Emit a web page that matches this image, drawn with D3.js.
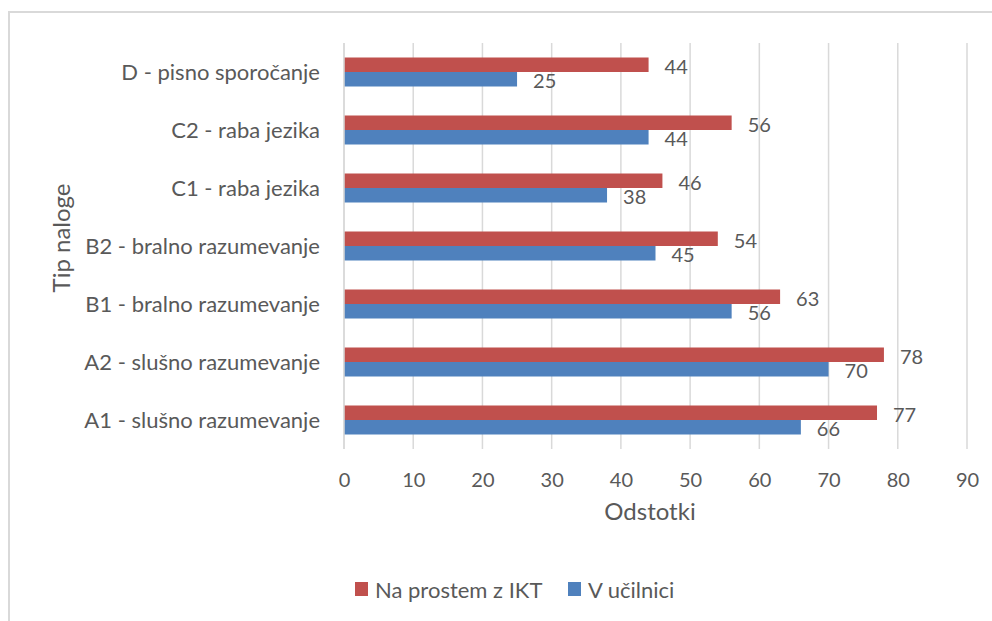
<!DOCTYPE html>
<html>
<head>
<meta charset="utf-8">
<script src="https://cdn.jsdelivr.net/npm/d3@7"></script>
<style>
  html, body { margin: 0; padding: 0; background: #fff; }
  svg { display: block; }
  text { font-family: Lato, "Open Sans", sans-serif; fill: #595959; }
</style>
</head>
<body>
<svg id="chart" width="992" height="621"></svg>
<script>
const categories = [
  "D - pisno sporočanje",
  "C2 - raba jezika",
  "C1 - raba jezika",
  "B2 - bralno razumevanje",
  "B1 - bralno razumevanje",
  "A2 - slušno razumevanje",
  "A1 - slušno razumevanje"
];
const seriesNames = ["Na prostem z IKT", "V učilnici"];
const naProstem = [44, 56, 46, 54, 63, 78, 77];
const vUcilnici = [25, 44, 38, 45, 56, 70, 66];
const xTicks = [0, 10, 20, 30, 40, 50, 60, 70, 80, 90];
const colors = ["#C0504D", "#4F81BD"];

const svg = d3.select("#chart");

// chart border
svg.append("path")
  .attr("d", "M9,621 L9,12 L992,12")
  .attr("fill", "none")
  .attr("stroke", "#D9D9D9")
  .attr("stroke-width", 2);

const x = d3.scaleLinear().domain([0, 90]).range([344, 967]);
const y = d3.scaleBand().domain(categories).range([43, 449]).paddingInner(0.5).paddingOuter(0.25);
const sub = d3.scaleBand().domain(seriesNames).range([0, y.bandwidth()]);

// gridlines
svg.append("g").selectAll("line").data(xTicks).join("line")
  .attr("x1", d => x(d)).attr("x2", d => x(d))
  .attr("y1", 43).attr("y2", 449)
  .attr("stroke", "#D9D9D9").attr("stroke-width", 1.5);

// x axis tick labels
const xAxis = d3.axisBottom(x).tickValues(xTicks).tickSize(0).tickPadding(0);
const gx = svg.append("g").attr("transform", "translate(0,449)").call(xAxis);
gx.select(".domain").remove();
gx.selectAll("text")
  .attr("y", 31).attr("dy", "0.35em")
  .style("font-size", "20px").style("fill", "#595959")
  .style("font-family", "Lato, 'Open Sans', sans-serif");

// y axis category labels
const yAxis = d3.axisLeft(y).tickSize(0).tickPadding(0);
const gy = svg.append("g").attr("transform", "translate(320,0)").call(yAxis);
gy.select(".domain").remove();
gy.selectAll("text")
  .attr("x", 0).attr("dy", "0.35em")
  .style("font-size", "22px").style("fill", "#595959")
  .style("font-family", "Lato, 'Open Sans', sans-serif");

// bars
const rows = categories.map((c, i) => ({ cat: c, vals: [naProstem[i], vUcilnici[i]] }));
const groups = svg.append("g").selectAll("g").data(rows).join("g")
  .attr("transform", d => `translate(0,${y(d.cat)})`);

groups.selectAll("rect").data(d => d.vals.map((v, j) => ({ v, s: seriesNames[j], j }))).join("rect")
  .attr("x", x(0))
  .attr("y", d => sub(d.s))
  .attr("width", d => x(d.v) - x(0))
  .attr("height", sub.bandwidth())
  .attr("fill", d => colors[d.j]);

groups.selectAll("text.lbl").data(d => d.vals.map((v, j) => ({ v, s: seriesNames[j], j }))).join("text")
  .attr("class", "lbl")
  .attr("x", d => x(d.v) + 16)
  .attr("y", d => sub(d.s) + sub.bandwidth() / 2 + 2)
  .attr("dy", "0.35em")
  .style("font-size", "20px")
  .text(d => d.v);

// axis line at zero
svg.append("line")
  .attr("x1", x(0)).attr("x2", x(0)).attr("y1", 43).attr("y2", 449)
  .attr("stroke", "#D9D9D9").attr("stroke-width", 1.5);

// axis titles
svg.append("text")
  .attr("x", 650).attr("y", 512).attr("dy", "0.35em")
  .attr("text-anchor", "middle")
  .style("font-size", "24px")
  .text("Odstotki");

svg.append("text")
  .attr("transform", "translate(62,238) rotate(-90)")
  .attr("dy", "0.35em")
  .attr("text-anchor", "middle")
  .style("font-size", "24px")
  .text("Tip naloge");

// legend
const legendX = [355, 568];
const lg = svg.append("g").selectAll("g").data(seriesNames).join("g")
  .attr("transform", (d, i) => `translate(${legendX[i]},582)`);
lg.append("rect").attr("width", 13).attr("height", 14).attr("fill", (d, i) => colors[i]);
lg.append("text").attr("x", 20).attr("y", 8).attr("dy", "0.35em")
  .style("font-size", "22px").text(d => d);
</script>
</body>
</html>
